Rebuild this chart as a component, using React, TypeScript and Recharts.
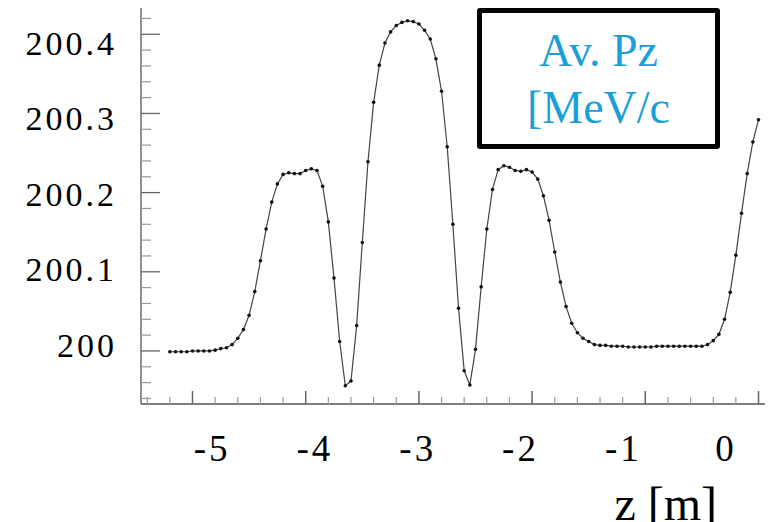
import React from 'react';
import {
    LineChart,
    Line,
    XAxis,
    YAxis,
    Legend,
    ReferenceLine,
} from 'recharts';

// z position along the beam line [m], one sample every 5 cm
const Z_POS = [
    -5.2, -5.15, -5.1, -5.05, -5, -4.95, -4.9, -4.85, -4.8, -4.75,
    -4.7, -4.65, -4.6, -4.55, -4.5, -4.45, -4.4, -4.35, -4.3, -4.25,
    -4.2, -4.15, -4.1, -4.05, -4, -3.95, -3.9, -3.85, -3.8, -3.75,
    -3.7, -3.65, -3.6, -3.55, -3.5, -3.45, -3.4, -3.35, -3.3, -3.25,
    -3.2, -3.15, -3.1, -3.05, -3, -2.95, -2.9, -2.85, -2.8, -2.75,
    -2.7, -2.65, -2.6, -2.55, -2.5, -2.45, -2.4, -2.35, -2.3, -2.25,
    -2.2, -2.15, -2.1, -2.05, -2, -1.95, -1.9, -1.85, -1.8, -1.75,
    -1.7, -1.65, -1.6, -1.55, -1.5, -1.45, -1.4, -1.35, -1.3, -1.25,
    -1.2, -1.15, -1.1, -1.05, -1, -0.95, -0.9, -0.85, -0.8, -0.75,
    -0.7, -0.65, -0.6, -0.55, -0.5, -0.45, -0.4, -0.35, -0.3, -0.25,
    -0.2, -0.15, -0.1, -0.05, 0,
];

// average Pz [MeV/c]
const PZ_AVG = [
    199.999, 199.999, 199.999, 199.999, 200.0, 200.0, 200.0, 200.0, 200.001, 200.003,
    200.004, 200.008, 200.016, 200.027, 200.045, 200.075, 200.114, 200.154, 200.188, 200.211,
    200.223, 200.225, 200.224, 200.224, 200.228, 200.23, 200.228, 200.208, 200.163, 200.092,
    200.012, 199.956, 199.962, 200.032, 200.137, 200.239, 200.314, 200.361, 200.389, 200.403,
    200.411, 200.415, 200.417, 200.416, 200.413, 200.405, 200.394, 200.369, 200.328, 200.258,
    200.16, 200.054, 199.975, 199.957, 200.002, 200.081, 200.154, 200.204, 200.229, 200.234,
    200.232, 200.228, 200.227, 200.229, 200.226, 200.217, 200.196, 200.165, 200.125, 200.087,
    200.056, 200.035, 200.023, 200.016, 200.012, 200.008, 200.007, 200.007, 200.006, 200.006,
    200.006, 200.005, 200.005, 200.005, 200.005, 200.005, 200.006, 200.006, 200.006, 200.006,
    200.006, 200.006, 200.006, 200.006, 200.006, 200.008, 200.013, 200.021, 200.04, 200.074,
    200.121, 200.174, 200.224, 200.264, 200.292,
];

const Z_MINOR_TICKS = [
    -5.4, -5.2, -5, -4.8, -4.6, -4.4, -4.2, -4, -3.8, -3.6, -3.4, -3.2, -3, -2.8,
    -2.6, -2.4, -2.2, -2, -1.8, -1.6, -1.4, -1.2, -1, -0.8, -0.6, -0.4, -0.2, 0,
];
const Z_MAJOR_TICKS = [-5, -4, -3, -2, -1, 0];
const Z_LABELS = [-5, -4, -3, -2, -1, 0];

const PZ_MINOR_TICKS = [
    199.94, 199.96, 199.98, 200, 200.02, 200.04, 200.06, 200.08, 200.1, 200.12, 200.14,
    200.16, 200.18, 200.2, 200.22, 200.24, 200.26, 200.28, 200.3, 200.32, 200.34, 200.36,
    200.38, 200.4, 200.42,
];
const PZ_MAJOR_TICKS = [200, 200.1, 200.2, 200.3, 200.4];
const PZ_LABELS = [200, 200.1, 200.2, 200.3, 200.4];

const LEGEND_LINES = ['Av. Pz', '[MeV/c'];
const AXIS_TITLE = 'z [m]';

// the tick labels were pasted over the plot with their own spacing,
// so they sit on separate axes with slightly different ranges
const Z_DOMAIN = [-5.455, 0.128];
const Z_LABEL_DOMAIN = [-5.692, 0.456];
const PZ_DOMAIN = [199.933, 200.4395];
const PZ_LABEL_DOMAIN = [199.921, 200.4528];

const SERIF = '"Liberation Serif", "Times New Roman", serif';
const CYAN = '#1a9fd9';

const data = Z_POS.map((z, i) => ({ z, pz: PZ_AVG[i] }));

const isIn = (v: number, list: number[]) => list.some((m) => Math.abs(m - v) < 1e-6);

const ZTick = (props: any) => {
    const { x, y, payload } = props;
    const major = isIn(payload.value, Z_MAJOR_TICKS);
    return (
        <line
            x1={x}
            x2={x}
            y1={y}
            y2={y - (major ? 13 : 7)}
            stroke={major ? '#666' : '#999'}
            strokeWidth={major ? 1.5 : 1.2}
        />
    );
};

const PzTick = (props: any) => {
    const { x, y, payload } = props;
    const major = isIn(payload.value, PZ_MAJOR_TICKS);
    return (
        <line
            x1={x}
            x2={x + (major ? 19 : 10)}
            y1={y}
            y2={y}
            stroke={major ? '#666' : '#999'}
            strokeWidth={major ? 1.3 : 1.2}
        />
    );
};

const renderLegend = () => (
    <div
        style={{
            boxSizing: 'border-box',
            width: 243,
            height: 141,
            border: '5px solid #000',
            borderRadius: 3,
            background: '#fff',
            display: 'flex',
            flexDirection: 'column',
            justifyContent: 'center',
            alignItems: 'center',
            fontFamily: SERIF,
            fontSize: 46,
            lineHeight: '57px',
            color: CYAN,
        }}
    >
        {LEGEND_LINES.map((t) => (
            <div key={t}>{t}</div>
        ))}
    </div>
);

const renderAxisTitle = (props: any) => {
    const { viewBox } = props;
    return (
        <text
            x={viewBox.x + viewBox.width - 56}
            y={viewBox.y + 116}
            textAnchor="end"
            fontFamily={SERIF}
            fontSize={48}
            fill="#000"
        >
            {AXIS_TITLE}
        </text>
    );
};

export default function App() {
    return (
        <div style={{ margin: '-8px 0 0 -8px', width: 773, height: 522, background: '#fff' }}>
            <LineChart
                width={773}
                height={522}
                data={data}
                margin={{ top: 3, right: 0, bottom: 0, left: 0 }}
            >
                <XAxis
                    xAxisId="z"
                    dataKey="z"
                    type="number"
                    domain={Z_DOMAIN}
                    allowDataOverflow
                    ticks={Z_MINOR_TICKS}
                    interval={0}
                    mirror
                    height={1}
                    tickSize={0}
                    tickMargin={0}
                    tickLine={false}
                    axisLine={{ stroke: '#555', strokeWidth: 1.3 }}
                    tick={ZTick}
                />
                <XAxis
                    xAxisId="zl"
                    dataKey="z"
                    type="number"
                    domain={Z_LABEL_DOMAIN}
                    allowDataOverflow
                    ticks={Z_LABELS}
                    interval={0}
                    height={118}
                    tickSize={0}
                    tickMargin={31}
                    axisLine={false}
                    tickLine={false}
                    tick={{ fontSize: 37, fontFamily: SERIF, fill: '#000', letterSpacing: 3 }}
                    label={{ content: renderAxisTitle }}
                />
                <YAxis
                    yAxisId="v"
                    type="number"
                    domain={PZ_DOMAIN}
                    allowDataOverflow
                    ticks={PZ_MINOR_TICKS}
                    interval={0}
                    mirror
                    width={1}
                    tickSize={0}
                    tickMargin={0}
                    tickLine={false}
                    axisLine={{ stroke: '#555', strokeWidth: 1.3 }}
                    tick={PzTick}
                />
                <YAxis
                    yAxisId="vl"
                    type="number"
                    domain={PZ_LABEL_DOMAIN}
                    allowDataOverflow
                    ticks={PZ_LABELS}
                    interval={0}
                    width={141}
                    tickSize={0}
                    tickMargin={24}
                    axisLine={false}
                    tickLine={false}
                    tick={{ fontSize: 34, fontFamily: SERIF, fill: '#000', letterSpacing: 3 }}
                />
                <ReferenceLine
                    xAxisId="z"
                    yAxisId="v"
                    y={PZ_DOMAIN[1]}
                    stroke="#999"
                    strokeWidth={1.2}
                />
                <Legend
                    layout="horizontal"
                    verticalAlign="middle"
                    align="center"
                    content={renderLegend}
                    wrapperStyle={{ left: 477, top: 8, width: 243 }}
                />
                <Line
                    xAxisId="z"
                    yAxisId="v"
                    type="linear"
                    dataKey="pz"
                    name="Av. Pz [MeV/c"
                    stroke="#444"
                    strokeWidth={1.2}
                    dot={{ r: 1.8, fill: '#111', stroke: 'none' }}
                    isAnimationActive={false}
                />
            </LineChart>
        </div>
    );
}
